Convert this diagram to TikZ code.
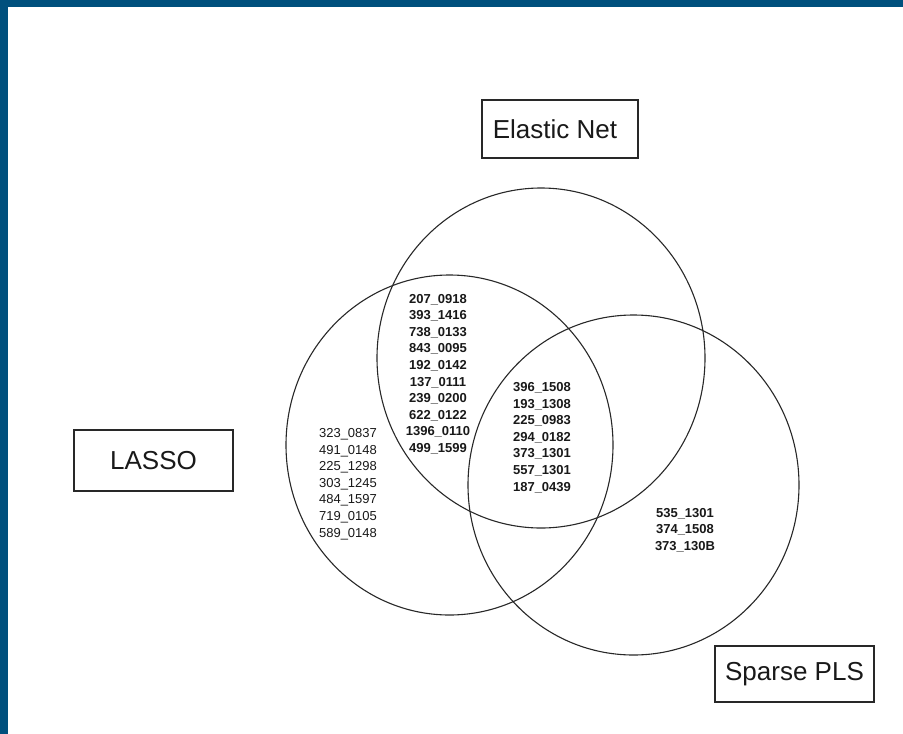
\documentclass[tikz,border=0pt]{standalone}
\usepackage{fontspec}
\setmainfont{Liberation Sans}
\definecolor{framebar}{RGB}{0,80,125}
\definecolor{inkline}{RGB}{40,40,40}
\definecolor{inktext}{RGB}{25,25,25}
\begin{document}
\begin{tikzpicture}[x=1pt,y=-1pt,
  setbox/.style={draw=inkline, line width=1.4pt, minimum height=58pt,
    inner sep=0pt, text=inktext, font=\fontsize{26}{30}\selectfont},
  setring/.style={draw=inkline, line width=1.1pt},
  genelist/.style={align=center, inner sep=0pt, text=inktext,
    font=\fontsize{13}{16.6}\selectfont},
  heavylist/.style={genelist, font=\fontsize{13}{16.6}\selectfont\bfseries}]
% page and frame bars
\fill[white] (0,0) rectangle (903,734);
\useasboundingbox (0,0) rectangle (903,734);
\fill[framebar] (0,0) rectangle (903,7);
\fill[framebar] (0,0) rectangle (8,734);

% the three sets
\draw[setring] (541,358) ellipse [x radius=164pt, y radius=170pt];
\draw[setring] (449.5,445) ellipse [x radius=163.5pt, y radius=170pt];
\draw[setring] (633.5,485) ellipse [x radius=165.5pt, y radius=170pt];

% set names
\node[setbox, minimum width=156pt] (enet) at (560,129) {\hspace*{-10pt}Elastic Net};
\node[setbox, minimum width=159pt, minimum height=61pt] (lasso) at (153.5,460.5) {LASSO};
\node[setbox, minimum width=159pt, minimum height=56pt] (spls) at (794.5,674) {Sparse PLS};

% selected variables per region
\node[heavylist] (lassoenet) at (438,374) {207\_0918\\393\_1416\\738\_0133\\843\_0095\\192\_0142\\137\_0111\\239\_0200\\622\_0122\\1396\_0110\\499\_1599};
\node[heavylist] (allthree) at (542,437.5) {396\_1508\\193\_1308\\225\_0983\\294\_0182\\373\_1301\\557\_1301\\187\_0439};
\node[genelist] (lassoonly) at (348,484) {323\_0837\\491\_0148\\225\_1298\\303\_1245\\484\_1597\\719\_0105\\589\_0148};
\node[heavylist] (splsonly) at (685,530) {535\_1301\\374\_1508\\373\_130B};
\end{tikzpicture}
\end{document}
